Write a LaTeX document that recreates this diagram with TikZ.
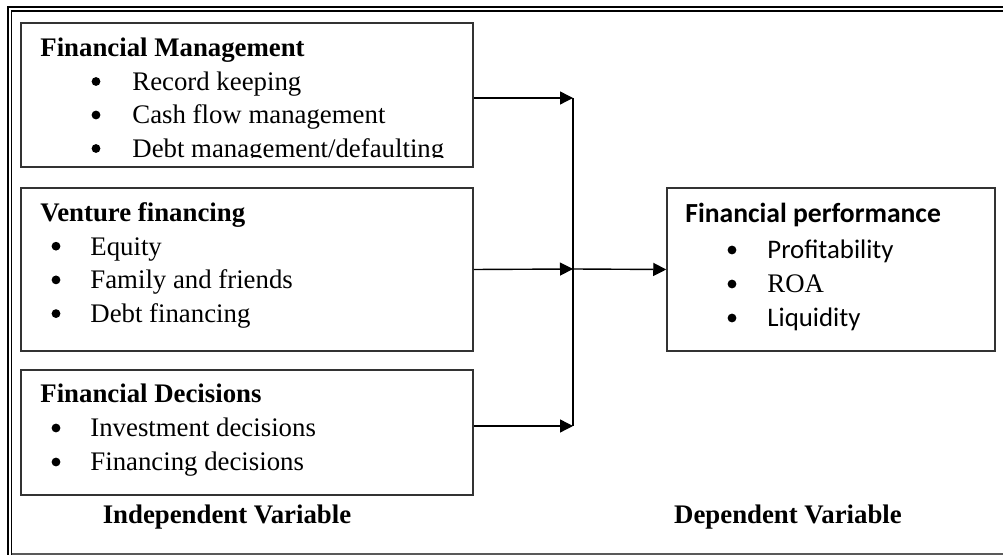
\documentclass[tikz,border=0pt]{standalone}
\usepackage{fontspec}
\setmainfont{Liberation Serif}
\newfontfamily\calibri{Carlito}
\usetikzlibrary{arrows.meta}

\begin{document}
\begin{tikzpicture}[x=0.5pt, y=-0.5pt,
  every node/.style={inner sep=0pt, font=\fontsize{13.4pt}{16pt}\selectfont},
  box/.style={draw=black!80, line width=0.75pt, minimum width=226pt},
  heading/.style={anchor=base west, font=\fontsize{13.4pt}{16pt}\selectfont\bfseries},
  entry/.style={anchor=base west},
  bulletdot/.style={circle, fill=black, minimum size=4.4pt},
  link/.style={draw=black, line width=0.7pt, -{Triangle[length=6.5pt, width=6.5pt]}}]
\useasboundingbox (0,0) rectangle (1003,555);
% page frame
\draw[line width=1.2pt] (8,555) -- (8,7) -- (1003,7);
\draw[line width=0.8pt] (11.5,555) -- (11.5,11) -- (1003,11);
\draw[black!65, line width=0.7pt] (11.5,554) -- (1003,554);

% boxes
\node[box, minimum height=72pt] (fm) at (247,95) {};
\node[box, minimum height=81.5pt] (vf) at (247,269.5) {};
\node[box, minimum height=62.5pt] (fd) at (247,432.5) {};
\node[box, minimum width=164pt, minimum height=81.5pt] (fp) at (831,269.5) {};

% Financial Management
\node[heading] (fmt) at (40,57) {Financial Management};
\begin{scope}
\clip (21,23) rectangle (473,158);
\foreach \t [count=\i] in {Record keeping, Cash flow management, Debt management/defaulting} {
  \node[bulletdot] (fmd\i) at (96,{48+33.5*\i}) {};
  \node[entry] (fm\i) at (132,{57+33.5*\i}) {\t};
}
\end{scope}

% Venture financing
\node[heading] (vft) at (40,221.5) {Venture financing};
\foreach \t [count=\i] in {Equity, Family and friends, Debt financing} {
  \node[bulletdot] (vfd\i) at (56,{212.5+33.7*\i}) {};
  \node[entry] (vf\i) at (90,{221.5+33.7*\i}) {\t};
}

% Financial Decisions
\node[heading] (fdt) at (40,403) {Financial Decisions};
\foreach \t [count=\i] in {Investment decisions, Financing decisions} {
  \node[bulletdot] (fdd\i) at (56,{394+34*\i}) {};
  \node[entry] (fd\i) at (90,{403+34*\i}) {\t};
}

% Financial performance
\node[heading, font=\fontsize{13.8pt}{16pt}\selectfont\calibri\bfseries] (fpt) at (685,223) {Financial performance};
\foreach \t [count=\i] in {{\calibri Profitability}, ROA, {\calibri Liquidity}} {
  \node[bulletdot] (fpd\i) at (732,{216+34*\i}) {};
  \node[entry] (fp\i) at (767,{225+34*\i}) {\t};
}

\node[heading, anchor=base] (iv) at (227,524) {Independent Variable};
\node[heading, anchor=base] (dv) at (788,524) {Dependent Variable};

% connectors
\coordinate (jtop) at (573,98);
\coordinate (jmid) at (573,269);
\coordinate (jbot) at (573,426);
\path[link] ([yshift=-1.5pt]fm.east) -- (jtop);
\path[link] (vf.east) -- (jmid);
\path[link] ([yshift=3.25pt]fd.east) -- (jbot);
\draw[line width=0.7pt] (jtop) -- (jbot);
\path[link] (jmid) -- (fp.west);
\end{tikzpicture}
\end{document}
